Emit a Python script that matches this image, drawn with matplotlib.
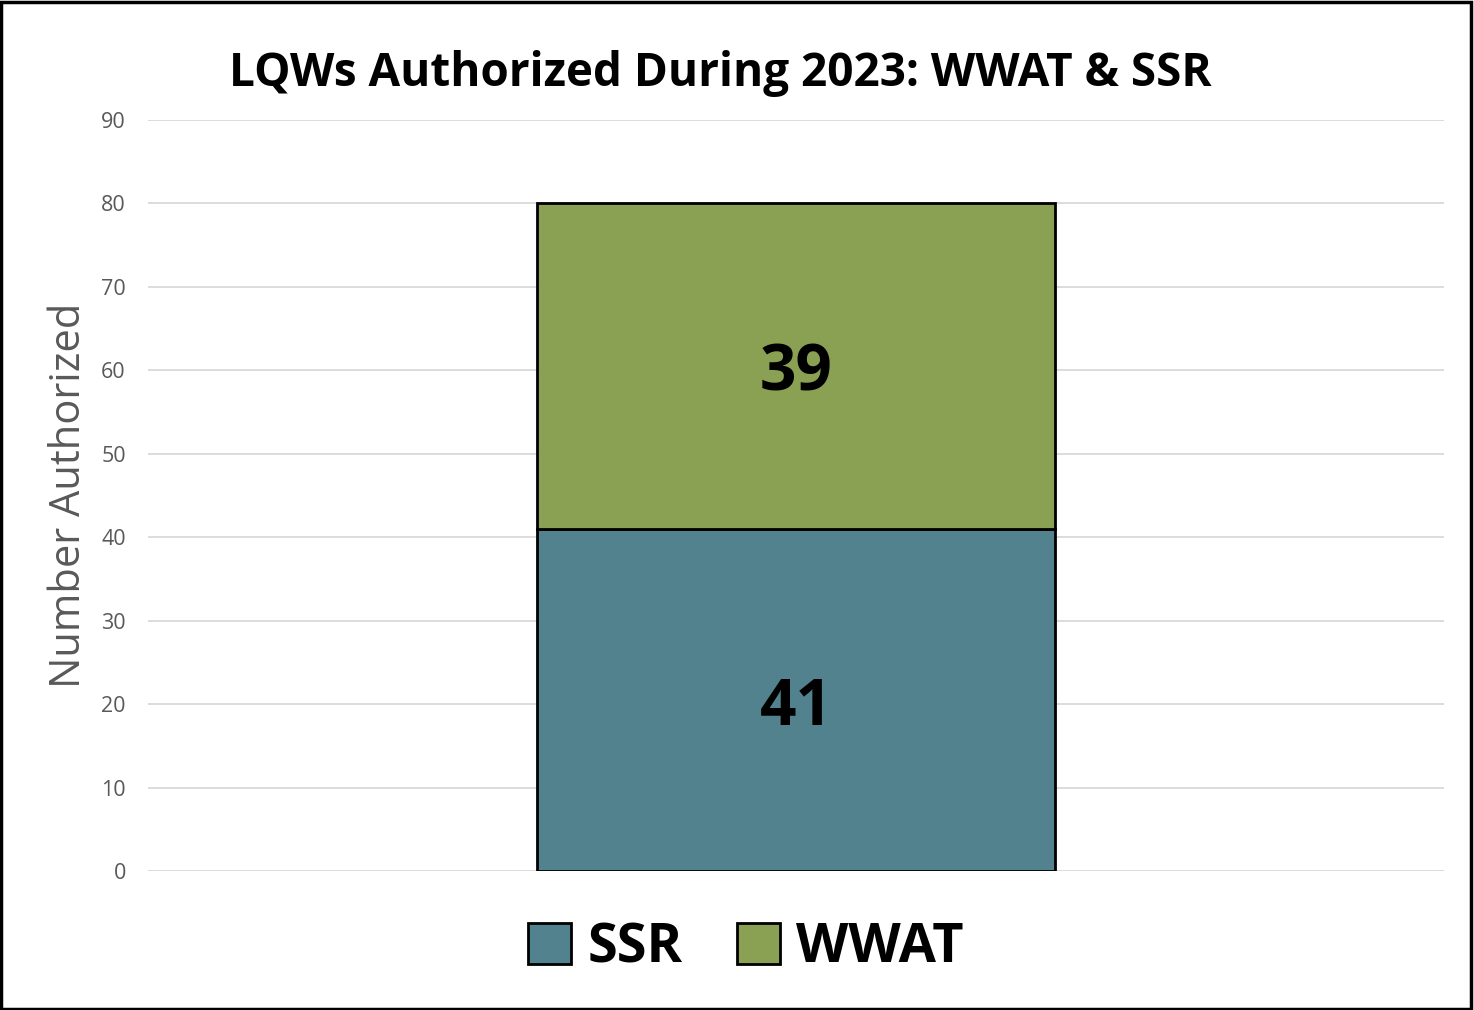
#!/usr/bin/env python3

import matplotlib
matplotlib.use('Agg')
import matplotlib.pyplot as plt
from matplotlib.patches import Rectangle

# Data
category = ['2023']
series_names = ['SSR', 'WWAT']
series_values = [[41], [39]]
series_colors = ['#52828E', '#8AA052']
y_ticks = list(range(0, 100, 10))


def main():
    plt.rcParams['font.family'] = ['Open Sans', 'DejaVu Sans']

    fig = plt.figure(figsize=(14.74, 10.10), dpi=100)
    ax = fig.add_axes([0.1004, 0.1376, 0.8793, 0.7436])

    # Stacked bars
    bottom = [0] * len(category)
    handles = []
    for name, vals, col in zip(series_names, series_values, series_colors):
        bars = ax.bar([0], vals, width=0.4, bottom=bottom, color=col,
                      edgecolor='black', linewidth=2.0, label=name, zorder=3)
        for b, v in zip(bars, vals):
            ax.annotate(str(v), (b.get_x() + b.get_width() / 2, b.get_y() + b.get_height() / 2),
                        xytext=(0, -6), textcoords='offset points',
                        ha='center', va='center', fontsize=46,
                        fontweight='bold', color='black', zorder=4)
        handles.append(bars)
        bottom = [a + b for a, b in zip(bottom, vals)]

    ax.set_xlim(-0.5, 0.5)
    ax.set_ylim(0, 90)
    ax.set_yticks(y_ticks)
    ax.set_xticks([])
    ax.tick_params(axis='y', length=0, labelsize=15.5, labelcolor='#595959', pad=16)
    ax.grid(axis='y', color='#D9D9D9', linewidth=1.3, zorder=0)
    for s in ax.spines.values():
        s.set_visible(False)

    ax.set_ylabel('Number Authorized', fontsize=30, color='#595959', labelpad=8)

    fig.text(0.489, 0.927, 'LQWs Authorized During 2023: WWAT & SSR',
             ha='center', va='center', fontsize=33, fontweight='bold')

    leg = fig.legend(handles, series_names, loc='center', bbox_to_anchor=(0.506, 0.061),
                     ncol=2, frameon=False, prop={'size': 39, 'weight': 'bold'},
                     handlelength=0.8, handleheight=0.8, handletextpad=0.3,
                     columnspacing=1.0)
    for h in leg.legend_handles:
        h.set_linewidth(2.0)

    # Figure border
    fig.patches.append(Rectangle((0.001, 0.001), 0.997, 0.997, transform=fig.transFigure,
                                 fill=False, edgecolor='black', linewidth=2.5))

    fig.savefig('out.png', dpi=100)


if __name__ == "__main__":
    main()
